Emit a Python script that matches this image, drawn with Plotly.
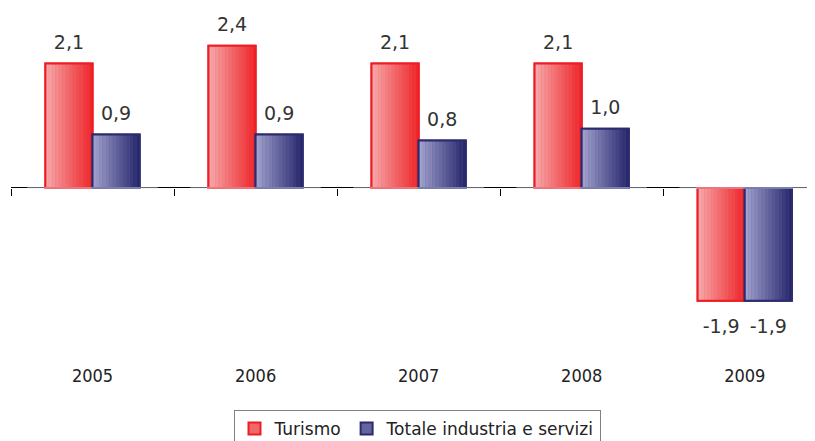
import plotly.graph_objects as go

# Data
anni = ["2005", "2006", "2007", "2008", "2009"]
turismo = [2.1, 2.4, 2.1, 2.1, -1.9]
totale = [0.9, 0.9, 0.8, 1.0, -1.9]

def fmt(v):
    return f"{v:.1f}".replace(".", ",")

BAR_W = 0.289
N_SLICES = 14
GAP_POS, GAP_NEG = 0.13, 0.185  # extra room between bar end and its value label

def mix(c1, c2, t):
    return "rgb(%d,%d,%d)" % tuple(round(a + (b - a) * t) for a, b in zip(c1, c2))

series = [
    ("Turismo", turismo, -BAR_W, (246, 166, 168), (238, 40, 44), "#ee1c24"),
    ("Totale industria e servizi", totale, 0.0, (160, 160, 205), (40, 40, 110), "#2b2b6e"),
]

fig = go.Figure()

for name, vals, off, c_left, c_right, edge in series:
    # base bar (gives the legend symbol)
    fig.add_trace(go.Bar(
        x=anni, y=vals, name=name, offset=off, width=BAR_W,
        marker=dict(color=mix(c_left, c_right, 0.5), line=dict(color=edge, width=2)),
        hoverinfo="skip",
    ))
    # horizontal gradient built from thin slices
    sw = BAR_W / N_SLICES
    for i in range(N_SLICES):
        fig.add_trace(go.Bar(
            x=anni, y=vals, offset=off + i * sw, width=sw * 1.02,
            marker=dict(color=mix(c_left, c_right, i / (N_SLICES - 1)), line=dict(width=0)),
            showlegend=False, hoverinfo="skip",
        ))
    # outline on top
    fig.add_trace(go.Bar(
        x=anni, y=vals, offset=off, width=BAR_W,
        marker=dict(color="rgba(0,0,0,0)", line=dict(color=edge, width=2)),
        showlegend=False, hovertemplate=name + " %{x}: %{y}<extra></extra>",
    ))
    # value labels: invisible bars slightly longer than the real ones
    fig.add_trace(go.Bar(
        x=anni, y=[v + (GAP_POS if v > 0 else -GAP_NEG) for v in vals],
        offset=off, width=BAR_W,
        marker=dict(color="rgba(0,0,0,0)", line=dict(width=0)),
        text=[fmt(v) for v in vals], textposition="outside", cliponaxis=False,
        textfont=dict(family="DejaVu Sans", size=19, color="#333333"),
        showlegend=False, hoverinfo="skip",
    ))

ymin, ymax = -2.951, 3.035

fig.update_layout(
    width=815, height=441,
    margin=dict(l=3, r=0, t=0, b=86, autoexpand=False),
    barmode="overlay",
    plot_bgcolor="white", paper_bgcolor="white",
    showlegend=True,
    xaxis=dict(
        type="category", range=[-0.5, 4.48],
        showline=False, ticks="", showgrid=False,
        tickfont=dict(family="DejaVu Sans Condensed", size=18, color="#222222"),
    ),
    xaxis2=dict(
        type="category", overlaying="x", matches="x", anchor="free",
        position=(0 - ymin) / (ymax - ymin),
        categoryorder="array", categoryarray=anni,
        tickson="boundaries", ticks="outside", ticklen=7, tickcolor="black",
        showticklabels=False, showline=False, showgrid=False,
    ),
    yaxis=dict(
        range=[ymin, ymax], visible=True, showgrid=False, showticklabels=False,
        zeroline=True, zerolinecolor="black", zerolinewidth=1, ticks="",
    ),
    legend=dict(
        orientation="h", x=0.5, xanchor="center", y=-0.1324, yanchor="top",
        bordercolor="#808080", borderwidth=1, bgcolor="white",
        font=dict(family="DejaVu Sans", size=17, color="#222222"),
        itemwidth=30,
    ),
)

# invisible trace on xaxis2 so the tick axis gets its categories
fig.add_trace(go.Bar(
    x=anni, y=[0] * len(anni), xaxis="x2", showlegend=False,
    marker=dict(color="rgba(0,0,0,0)"), hoverinfo="skip",
))

fig.write_html("out.html")
